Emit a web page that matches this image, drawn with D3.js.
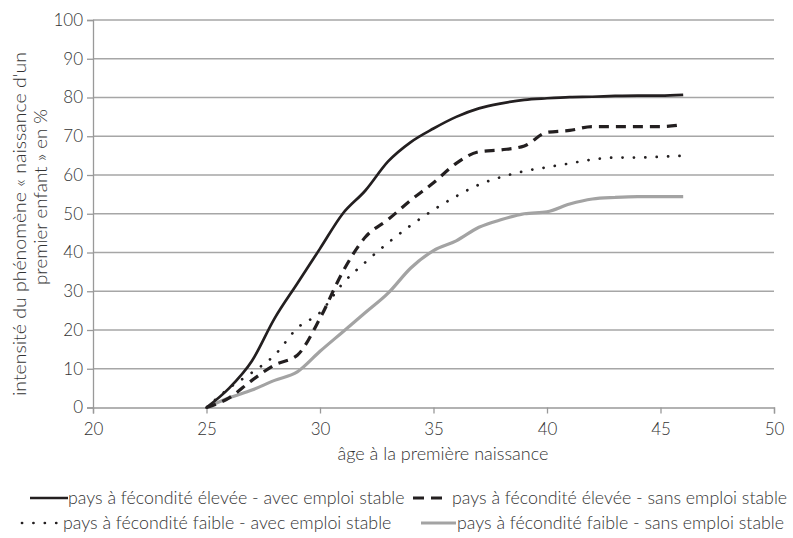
<!DOCTYPE html>
<html><head><meta charset="utf-8">
<script src="https://cdn.jsdelivr.net/npm/d3@7"></script>
<style>
html,body{margin:0;padding:0;background:#fff;}
text{font-family:Lato,"Open Sans",sans-serif;font-weight:300;fill:#333;}
</style></head>
<body><svg id="c" width="793" height="538"></svg>
<script>
const ages = [25,26,27,28,29,30,31,32,33,34,35,36,37,38,39,40,41,42,43,44,45,46];
const highStable   = [0,5,12,23,32,41,50,56,63.5,68.5,72,75,77.2,78.5,79.4,79.8,80.1,80.2,80.4,80.5,80.5,80.7];
const highUnstable = [0,2.5,7,11,13.5,23,35,44,48.5,53.5,58,63,66,66.5,67.5,71,71.5,72.5,72.5,72.5,72.5,73];
const lowStable    = [0,5,9,13.5,20.5,24.5,32,37.5,42.5,47,51,54.5,57.5,59.5,61,62,63,64,64.5,64.5,64.7,65];
const lowUnstable  = [0,2.5,4.5,7,9.2,14.5,19.5,24.5,29.5,36,40.5,43,46.5,48.5,50,50.5,52.5,53.8,54.2,54.4,54.4,54.4];
const seriesNames = [
  "pays à fécondité élevée - avec emploi stable",
  "pays à fécondité élevée - sans emploi stable",
  "pays à fécondité faible - avec emploi stable",
  "pays à fécondité faible - sans emploi stable"
];
const xTicks = [20,25,30,35,40,45,50];
const yTicks = [0,10,20,30,40,50,60,70,80,90,100];
const xTitle = "âge à la première naissance";
const yTitle = ["intensité du phénomène « naissance d'un", "premier enfant » en %"];

(function(){
const styles = [
  {stroke:"#231f20", width:2.7, dash:null, cap:"butt"},
  {stroke:"#231f20", width:3.2, dash:"10,7", cap:"butt"},
  {stroke:"#231f20", width:2.7, dash:"0.1,11.3", cap:"round"},
  {stroke:"#a3a3a3", width:3.2, dash:null, cap:"butt"}
];
const allSeries = [highStable, highUnstable, lowStable, lowUnstable];

const svg = d3.select("#c");
const mL = 93, mR = 774, mT = 20, mB = 407.5;
const x = d3.scaleLinear().domain([20,50]).range([mL,mR]);
const y = d3.scaleLinear().domain([0,100]).range([mB,mT]);

svg.append("g").selectAll("line").data(yTicks.filter(d=>d>0)).join("line")
  .attr("x1",mL).attr("x2",mR).attr("y1",d=>y(d)).attr("y2",d=>y(d))
  .attr("stroke","#a6a6a6").attr("stroke-width",1.3);

const ya = svg.append("g").attr("transform",`translate(${mL},0)`)
  .call(d3.axisLeft(y).tickValues(yTicks).tickSize(6).tickPadding(4));
ya.select(".domain").attr("stroke","#999").attr("stroke-width",1.3);
ya.selectAll(".tick line").attr("stroke","#999").attr("stroke-width",1.3);
ya.selectAll("text").style("font-size","17px").attr("fill","#333");

const xa = svg.append("g").attr("transform",`translate(0,${mB})`)
  .call(d3.axisBottom(x).tickValues(xTicks).tickSize(6).tickPadding(9));
xa.select(".domain").attr("stroke","#999").attr("stroke-width",1.3);
xa.selectAll(".tick line").attr("stroke","#999").attr("stroke-width",1.3);
xa.selectAll("text").style("font-size","17px").attr("fill","#333");

svg.append("text").attr("x",443).attr("y",460).attr("text-anchor","middle")
  .style("font-size","17px").attr("textLength",211).attr("lengthAdjust","spacingAndGlyphs").text(xTitle);
const yt = svg.append("g").attr("transform",`translate(26,0) rotate(-90)`);
yt.append("text").attr("x",-224).attr("y",0).attr("text-anchor","middle").style("font-size","17px")
  .attr("textLength",344).attr("lengthAdjust","spacingAndGlyphs").text(yTitle[0]);
yt.append("text").attr("x",-197).attr("y",20.5).attr("text-anchor","middle").style("font-size","17px")
  .attr("textLength",176).attr("lengthAdjust","spacingAndGlyphs").text(yTitle[1]);

const line = d3.line().x((d,i)=>x(ages[i])).y(d=>y(d)).curve(d3.curveMonotoneX);
[3,2,1,0].forEach(k=>{
  const s = styles[k];
  svg.append("path").datum(allSeries[k]).attr("d",line).attr("fill","none")
    .attr("stroke",s.stroke).attr("stroke-width",s.width)
    .attr("stroke-dasharray",s.dash).attr("stroke-linecap",s.cap).attr("stroke-linejoin","round");
});

const legendItems = [
  {k:0, x1:30, x2:68, tx:68, ty:498},
  {k:1, x1:413, x2:445, tx:452, ty:498},
  {k:2, x1:22, x2:57, tx:63, ty:523},
  {k:3, x1:421, x2:456, tx:457, ty:523}
];
legendItems.forEach(it=>{
  const s = styles[it.k];
  svg.append("line").attr("x1",it.x1).attr("x2",it.x2).attr("y1",it.ty).attr("y2",it.ty)
    .attr("stroke",s.stroke).attr("stroke-width",s.width)
    .attr("stroke-dasharray", it.k===1 ? "11,7" : s.dash).attr("stroke-linecap",s.cap);
  svg.append("text").attr("x",it.tx).attr("y",it.ty).attr("dy","0.35em")
    .style("font-size","17.8px").text(seriesNames[it.k]);
});
})();
</script></body></html>
